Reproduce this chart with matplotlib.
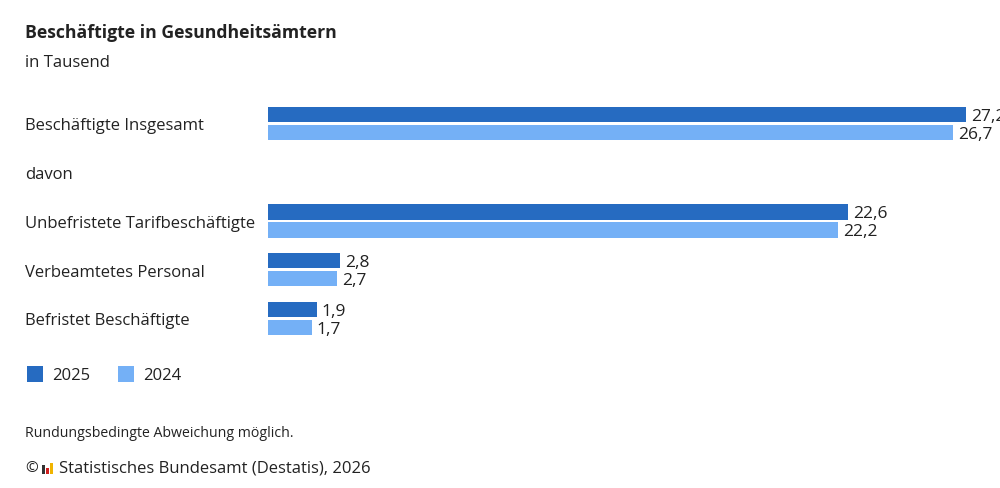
import matplotlib
matplotlib.use('Agg')
import matplotlib.pyplot as plt
from matplotlib.patches import Rectangle
import numpy as np

plt.rcParams['font.family'] = ['Open Sans', 'DejaVu Sans']

# data
categories = ['Beschäftigte Insgesamt', 'davon', 'Unbefristete Tarifbeschäftigte',
              'Verbeamtetes Personal', 'Befristet Beschäftigte']
values_2025 = [27.2, None, 22.6, 2.8, 1.9]
values_2024 = [26.7, None, 22.2, 2.7, 1.7]
series_labels = ['2025', '2024']

COL_2025 = '#266bc1'
COL_2024 = '#74b0f6'
TEXT = '#222222'

fig = plt.figure(figsize=(10, 4.89), dpi=100)
fig.patch.set_facecolor('white')

# axes spans the whole height, rows in "row units"
ax = fig.add_axes([0.268, 0.0, 0.74, 1.0])
row_px = 48.7
top = -124.5 / row_px
bottom = (489 - 124.5) / row_px
ax.set_ylim(bottom, top)
ax.set_xlim(0, 740 / 25.66)
ax.axis('off')

bar_h = 15.5 / row_px
off = 9.0 / row_px
ypos = np.arange(len(categories))

for vals, sign, col in [(values_2025, -1, COL_2025), (values_2024, 1, COL_2024)]:
    idx = [i for i, v in enumerate(vals) if v is not None]
    v = [vals[i] for i in idx]
    y = ypos[idx] + sign * off
    ax.barh(y, v, height=bar_h, color=col, edgecolor='none')
    for yy, vv in zip(y, v):
        ax.text(vv + 0.2, yy + 0.03, f'{vv:.1f}'.replace('.', ','), va='center', ha='left',
                fontsize=12.5, color=TEXT, clip_on=False)

# category labels
for i, cat in enumerate(categories):
    fig.text(0.025, 1 - (126.5 + i * row_px) / 489, cat, ha='left', va='center',
             fontsize=12, color=TEXT)

# title & subtitle
fig.text(0.025, 1 - 33 / 489, 'Beschäftigte in Gesundheitsämtern', ha='left', va='center',
         fontsize=12.7, fontweight='bold', color=TEXT)
fig.text(0.025, 1 - 63 / 489, 'in Tausend', ha='left', va='center', fontsize=12, color=TEXT)

# legend
for x0, col, lab in [(27, COL_2025, series_labels[0]), (118, COL_2024, series_labels[1])]:
    fig.patches.append(Rectangle((x0 / 1000, 1 - 383 / 489), 16 / 1000, 16 / 489,
                                 transform=fig.transFigure, facecolor=col, edgecolor='none'))
    fig.text((x0 + 25) / 1000, 1 - 376 / 489, lab, ha='left', va='center',
             fontsize=12, color=TEXT)

# footer
fig.text(0.025, 1 - 434 / 489, 'Rundungsbedingte Abweichung möglich.', ha='left', va='center',
         fontsize=10.2, color=TEXT)
fig.text(0.025, 1 - 469 / 489, '©', ha='left', va='center', fontsize=11, color=TEXT)
# small destatis logo
for dx, h, c in [(0, 9, '#333333'), (4, 6, '#d02020'), (8, 11, '#f0b400')]:
    fig.patches.append(Rectangle(((42 + dx) / 1000, 1 - 475 / 489), 3 / 1000, h / 489,
                                 transform=fig.transFigure, facecolor=c, edgecolor='none'))
fig.text(0.059, 1 - 469 / 489, 'Statistisches Bundesamt (Destatis), 2026', ha='left',
         va='center', fontsize=12, color=TEXT)

fig.savefig('out.png', dpi=100, facecolor='white')
